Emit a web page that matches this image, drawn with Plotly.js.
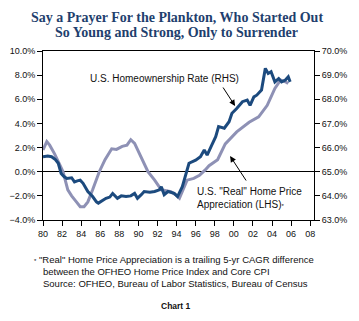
<!DOCTYPE html>
<html><head><meta charset="utf-8">
<script src="https://cdn.plot.ly/plotly-3.0.1.min.js"></script>
<style>html,body{margin:0;padding:0;background:#fff;}#chart{width:359px;height:321px;}</style>
</head><body><div id="chart"></div>
<script>
// U.S. Homeownership Rate (RHS, %)
const ownYears = [1980.0,1980.5,1980.9,1981.3,1981.6,1981.9,1982.2,1982.5,1983.0,1983.3,1983.6,1983.9,1984.2,1984.7,1985.2,1985.6,1985.8,1986.3,1986.6,1987.0,1987.3,1987.8,1988.2,1988.7,1989.2,1989.6,1989.9,1990.3,1990.6,1991.2,1991.7,1992.2,1992.4,1992.7,1993.1,1993.75,1994.1,1994.6,1995.0,1995.3,1996.0,1996.5,1996.9,1997.2,1997.6,1998.1,1998.4,1999.0,1999.5,1999.8,2000.3,2000.9,2001.4,2001.7,2002.1,2002.4,2002.9,2003.3,2003.6,2003.9,2004.3,2004.7,2005.0,2005.4,2005.7,2005.9];
const ownRate = [65.62,65.65,65.62,65.5,65.35,64.93,64.8,64.72,64.75,64.58,64.62,64.65,64.52,64.18,63.97,63.75,63.7,63.82,63.9,63.95,64.1,63.9,64.0,63.97,64.0,64.1,63.9,64.05,64.18,64.15,64.18,64.25,64.38,64.05,64.18,64.1,63.97,64.38,64.93,65.35,65.48,65.62,65.9,65.69,66.03,66.45,66.87,66.8,67.07,67.42,67.62,67.9,67.97,67.75,68.1,68.17,68.38,69.28,69.07,69.14,68.72,68.86,68.72,68.8,68.93,68.72];
// U.S. "Real" Home Price Appreciation (LHS, %)
const hpaYears = [1980.0,1980.4,1980.7,1981.2,1981.8,1982.1,1982.6,1983.0,1983.5,1983.9,1984.3,1984.7,1985.2,1985.9,1986.5,1987.2,1987.7,1988.3,1988.8,1989.2,1989.6,1990.1,1990.6,1991.0,1991.7,1992.4,1993.4,1993.9,1994.3,1994.7,1995.1,1995.8,1996.4,1997.0,1997.4,1998.3,1999.1,2000.3,2001.6,2002.6,2003.5,2004.3,2004.9,2005.4,2005.7];
const hpaRate = [1.8,2.5,2.2,1.5,0.5,0.0,-1.5,-2.0,-2.5,-2.9,-2.9,-2.5,-1.5,0.0,1.0,1.9,1.85,2.1,2.2,2.65,2.35,1.5,0.6,0.0,-0.7,-1.5,-1.65,-1.9,-2.2,-1.5,-0.7,-0.55,-0.3,0.15,0.5,1.0,2.3,3.3,4.1,4.55,5.5,6.9,7.6,7.45,7.3];
const xTickVals = [1980,1982,1984,1986,1988,1990,1992,1994,1996,1998,2000,2002,2004,2006,2008];
const xTickText = ['80','82','84','86','88','90','92','94','96','98','00','02','04','06','08'];

const L = 42.7, R = 314, T = 51, B = 220;
const px = x => (x - L) / (R - L);
const py = y => (B - y) / (B - T);

const navy = '#1c4a7e', lav = '#8e91b5';
const sans = 'Liberation Sans, Arial, sans-serif';

const traces = [
  {x: hpaYears, y: hpaRate, type: 'scatter', mode: 'lines', yaxis: 'y',
   line: {color: lav, width: 3}, hoverinfo: 'skip'},
  {x: ownYears, y: ownRate, type: 'scatter', mode: 'lines', yaxis: 'y2',
   line: {color: navy, width: 3}, hoverinfo: 'skip'}
];

const annotations = [
  {text: '<b>Say a Prayer For the Plankton, Who Started Out</b>', xref: 'paper', yref: 'paper', x: px(176.5), y: py(18), showarrow: false,
   font: {family: 'Liberation Serif, serif', size: 14, color: '#1f3f6e'}, xanchor: 'center', yanchor: 'middle'},
  {text: '<b>So Young and Strong, Only to Surrender</b>', xref: 'paper', yref: 'paper', x: px(176.5), y: py(33), showarrow: false,
   font: {family: 'Liberation Serif, serif', size: 14, color: '#1f3f6e'}, xanchor: 'center', yanchor: 'middle'},
  {text: 'U.S. Homeownership Rate (RHS)', xref: 'paper', yref: 'paper', x: px(88), y: py(78), showarrow: false,
   font: {family: sans, size: 10, color: '#111'}, xanchor: 'left', yanchor: 'middle'},
  {text: '', xref: 'paper', yref: 'paper', x: px(235), y: py(106), ax: px(222), ay: py(86), axref: 'paper', ayref: 'paper',
   showarrow: true, arrowhead: 2, arrowsize: 1.2, arrowwidth: 1, arrowcolor: '#000'},
  {text: 'U.S. "Real" Home Price', xref: 'paper', yref: 'paper', x: px(195), y: py(191), showarrow: false,
   font: {family: sans, size: 10, color: '#111'}, xanchor: 'left', yanchor: 'middle'},
  {text: 'Appreciation (LHS)<span style="font-size:6px">*</span>', xref: 'paper', yref: 'paper', x: px(195), y: py(204), showarrow: false,
   font: {family: sans, size: 10, color: '#111'}, xanchor: 'left', yanchor: 'middle'},
  {text: '', xref: 'paper', yref: 'paper', x: px(230), y: py(156), ax: px(247), ay: py(182), axref: 'paper', ayref: 'paper',
   showarrow: true, arrowhead: 2, arrowsize: 1.2, arrowwidth: 1, arrowcolor: '#000'},
  {text: '<span style="font-size:6px">*</span> "Real" Home Price Appreciation is a trailing 5-yr CAGR difference', xref: 'paper', yref: 'paper', x: px(32), y: py(259), showarrow: false,
   font: {family: sans, size: 9.5, color: '#111'}, xanchor: 'left', yanchor: 'middle'},
  {text: 'between the OFHEO Home Price Index and Core CPI', xref: 'paper', yref: 'paper', x: px(40.5), y: py(271), showarrow: false,
   font: {family: sans, size: 9.5, color: '#111'}, xanchor: 'left', yanchor: 'middle'},
  {text: 'Source: OFHEO, Bureau of Labor Statistics, Bureau of Census', xref: 'paper', yref: 'paper', x: px(40.5), y: py(283), showarrow: false,
   font: {family: sans, size: 9.5, color: '#111'}, xanchor: 'left', yanchor: 'middle'},
  {text: '<b>Chart 1</b>', xref: 'paper', yref: 'paper', x: px(176), y: py(306), showarrow: false,
   font: {family: sans, size: 8.5, color: '#111'}, xanchor: 'center', yanchor: 'middle'}
];

const layout = {
  width: 359, height: 321,
  margin: {l: L, r: 359 - R, t: T, b: 321 - B, pad: 0},
  paper_bgcolor: '#fff', plot_bgcolor: '#fff',
  showlegend: false,
  xaxis: {range: [1980, 2008.4], tickvals: xTickVals, ticktext: xTickText, ticks: 'outside', ticklen: 5, tickcolor: '#000',
    showline: true, linecolor: '#000', linewidth: 1, mirror: true, showgrid: false, zeroline: false,
    tickfont: {family: sans, size: 9, color: '#111'}},
  yaxis: {range: [-4, 10], dtick: 2, tick0: 0, tickformat: '.1f', ticksuffix: '%', ticks: 'outside', ticklen: 5, tickcolor: '#000',
    showline: true, linecolor: '#000', linewidth: 1, showgrid: false, zeroline: true, zerolinecolor: '#000', zerolinewidth: 1,
    tickfont: {family: sans, size: 9, color: '#111'}},
  yaxis2: {range: [63, 70], dtick: 1, tick0: 63, tickformat: '.1f', ticksuffix: '%', ticks: 'outside', ticklen: 5, tickcolor: '#000',
    overlaying: 'y', side: 'right', showline: true, linecolor: '#000', linewidth: 1, showgrid: false, zeroline: false,
    tickfont: {family: sans, size: 9, color: '#111'}},
  annotations: annotations
};

Plotly.newPlot('chart', traces, layout, {displayModeBar: false, staticPlot: true});
</script></body></html>
